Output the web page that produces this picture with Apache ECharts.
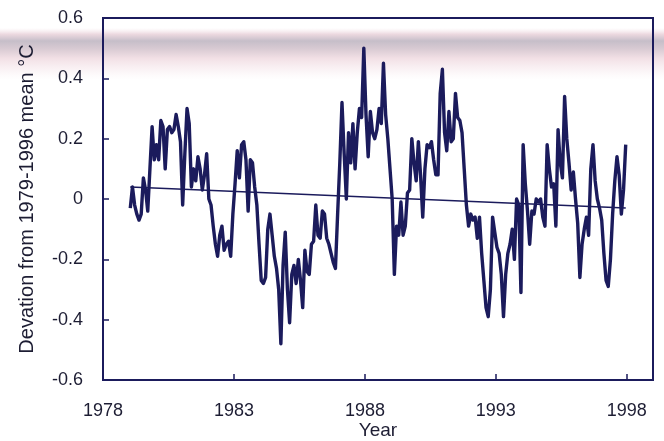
<!DOCTYPE html>
<html>
<head>
<meta charset="utf-8">
<script src="https://cdn.jsdelivr.net/npm/echarts@6/dist/echarts.min.js"></script>
<style>html,body{margin:0;padding:0;background:#fff;}#c{width:664px;height:441px;}</style>
</head>
<body>
<div id="c"></div>
<script>
var startYear = 1979;
var anomalies = [
  -0.03, 0.04, -0.02, -0.05, -0.07, -0.05, 0.07, 0.03, -0.04, 0.10, 0.24, 0.13,
  0.18, 0.13, 0.26, 0.24, 0.10, 0.23, 0.24, 0.22, 0.23, 0.28, 0.24, 0.19,
  -0.02, 0.15, 0.30, 0.25, 0.04, 0.10, 0.06, 0.14, 0.10, 0.03, 0.08, 0.15,
  0.00, -0.02, -0.09, -0.15, -0.19, -0.12, -0.09, -0.17, -0.15, -0.14, -0.19, -0.05,
  0.05, 0.16, 0.07, 0.18, 0.19, 0.13, -0.04, 0.13, 0.12, 0.04, -0.02, -0.15,
  -0.27, -0.28, -0.26, -0.10, -0.05, -0.12, -0.19, -0.23, -0.30, -0.48, -0.22, -0.11,
  -0.30, -0.41, -0.25, -0.22, -0.28, -0.20, -0.27, -0.36, -0.17, -0.24, -0.25, -0.15,
  -0.14, -0.02, -0.12, -0.13, -0.04, -0.05, -0.13, -0.15, -0.18, -0.21, -0.23, -0.05,
  0.12, 0.32, 0.15, 0.00, 0.22, 0.12, 0.25, 0.10, 0.22, 0.30, 0.27, 0.50,
  0.28, 0.14, 0.29, 0.22, 0.20, 0.23, 0.30, 0.25, 0.45, 0.28, 0.20, 0.10,
  0.00, -0.25, -0.09, -0.12, -0.01, -0.12, -0.09, 0.02, 0.03, 0.20, 0.12, 0.06,
  0.19, 0.08, -0.06, 0.10, 0.18, 0.17, 0.19, 0.13, 0.08, 0.08, 0.35, 0.43,
  0.22, 0.16, 0.29, 0.19, 0.20, 0.35, 0.27, 0.26, 0.22, 0.10, -0.02, -0.09,
  -0.05, -0.07, -0.06, -0.13, -0.06, -0.18, -0.27, -0.36, -0.39, -0.30, -0.06, -0.11,
  -0.16, -0.18, -0.25, -0.39, -0.25, -0.18, -0.15, -0.10, -0.20, 0.00, -0.02, -0.31,
  0.18, 0.05, -0.04, -0.15, -0.04, -0.05, 0.00, -0.01, 0.00, -0.06, -0.09, 0.18,
  0.10, 0.04, 0.05, -0.09, 0.23, 0.12, 0.07, 0.34, 0.20, 0.12, 0.03, 0.09,
  0.00, -0.08, -0.26, -0.15, -0.10, -0.06, -0.12, 0.10, 0.18, 0.06, 0.00, -0.03,
  -0.07, -0.18, -0.27, -0.29, -0.20, -0.05, 0.06, 0.14, 0.08, -0.05, 0.03, 0.18
];
var trendYears = [1979.04, 1997.96];
var trendValues = [0.04, -0.03];
var xTicks = [1978, 1983, 1988, 1993, 1998];

var seriesData = anomalies.map(function (v, i) { return [startYear + (i + 0.5) / 12, v]; });
var trendData = trendYears.map(function (t, i) { return [t, trendValues[i]]; });

var ink = '#1b1b5c';
var txt = '#1d1d33';
var chart = echarts.init(document.getElementById('c'), null, {renderer: 'canvas'});
chart.setOption({
  animation: false,
  backgroundColor: '#ffffff',
  textStyle: {fontFamily: 'Liberation Sans'},
  graphic: [{
    type: 'rect',
    z: -10,
    silent: true,
    shape: {x: 0, y: 28, width: 664, height: 52},
    style: {
      fill: new echarts.graphic.LinearGradient(0, 0, 0, 1, [
        {offset: 0, color: 'rgba(240,220,226,0)'},
        {offset: 0.12, color: 'rgba(228,200,210,0.7)'},
        {offset: 0.25, color: 'rgba(178,168,182,0.75)'},
        {offset: 0.4, color: 'rgba(200,180,192,0.7)'},
        {offset: 0.58, color: 'rgba(236,210,218,0.7)'},
        {offset: 0.8, color: 'rgba(245,230,235,0.5)'},
        {offset: 1, color: 'rgba(250,240,243,0)'}
      ])
    }
  }],
  grid: {left: 103, right: 11, top: 18, bottom: 61, outerBoundsMode: 'none', containLabel: false,
         show: true, borderColor: ink, borderWidth: 2, backgroundColor: 'rgba(0,0,0,0)'},
  xAxis: {
    type: 'value', min: 1978, max: 1999, position: 'bottom',
    name: 'Year', nameLocation: 'middle', nameGap: 41, nameMoveOverlap: false,
    nameTextStyle: {fontSize: 19, color: txt, fontFamily: 'Liberation Sans'},
    axisLine: {show: false, onZero: false},
    axisTick: {show: true, inside: true, length: 6, customValues: xTicks, lineStyle: {color: ink, width: 1.5}},
    axisLabel: {customValues: xTicks, fontSize: 18, color: txt, margin: 22, fontFamily: 'Liberation Sans', formatter: function (v) { return String(v); }},
    splitLine: {show: false}
  },
  yAxis: {
    type: 'value', min: -0.6, max: 0.6, interval: 0.2, position: 'left',
    name: 'Devation from 1979-1996 mean °C', nameLocation: 'middle', nameGap: 66, nameRotate: 90, nameMoveOverlap: false,
    nameTextStyle: {fontSize: 20, color: txt, fontFamily: 'Liberation Sans'},
    axisLine: {show: false, onZero: false},
    axisTick: {show: true, inside: true, length: 6, lineStyle: {color: ink, width: 1.5}},
    axisLabel: {fontSize: 18, color: txt, margin: 20, fontFamily: 'Liberation Sans',
      formatter: function (v) { var r = Math.round(v * 10) / 10; return r === 0 ? '0' : r.toFixed(1); }},
    splitLine: {show: false}
  },
  series: [
    {type: 'line', data: seriesData, showSymbol: false, lineStyle: {color: ink, width: 3.4, join: 'round'}, z: 3},
    {type: 'line', data: trendData, showSymbol: false, lineStyle: {color: ink, width: 1.6}, z: 4}
  ]
});
</script>
</body>
</html>
